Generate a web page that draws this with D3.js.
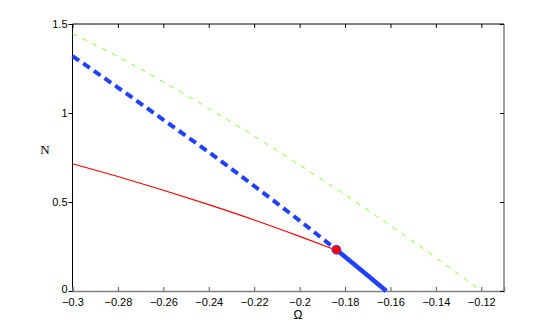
<!DOCTYPE html>
<html>
<head>
<meta charset="utf-8">
<script src="https://cdn.jsdelivr.net/npm/d3@7"></script>
<style>
  body { margin: 0; background: #fff; }
  .tick text { font-family: "Liberation Sans", Arial, sans-serif; font-size: 11px; fill: #000; }
</style>
</head>
<body>
<div id="chart"></div>
<script>
// values
var xTicks = [-0.3, -0.28, -0.26, -0.24, -0.22, -0.2, -0.18, -0.16, -0.14, -0.12];
var yTicks = [0, 0.5, 1, 1.5];

var greenOmega = [-0.3, -0.28, -0.26, -0.24, -0.22, -0.2, -0.18, -0.16, -0.14, -0.12];
var greenN     = [1.445, 1.317, 1.174, 1.026, 0.870, 0.708, 0.541, 0.367, 0.187, 0];

var blueDashOmega = [-0.3, -0.28, -0.26, -0.24, -0.22, -0.2, -0.1838];
var blueDashN     = [1.32, 1.143, 0.962, 0.780, 0.590, 0.395, 0.232];

var blueSolidOmega = [-0.1838, -0.17, -0.1618];
var blueSolidN     = [0.232, 0.087, 0];

var redOmega = [-0.3, -0.28, -0.26, -0.24, -0.22, -0.2, -0.1838];
var redN     = [0.715, 0.643, 0.566, 0.485, 0.399, 0.307, 0.229];

var point = [-0.1838, 0.232];

var w = 556, h = 327;
var margin = {top: 24, right: 52, bottom: 36, left: 72.5};

var svg = d3.select("#chart").append("svg")
    .attr("width", w)
    .attr("height", h);

var x = d3.scaleLinear().domain([-0.3, -0.11]).range([margin.left, w - margin.right]);
var y = d3.scaleLinear().domain([0, 1.5]).range([h - margin.bottom, margin.top]);

function fmt(d) { return String(+d.toFixed(2)).replace("-", "\u2212"); }

// box
svg.append("line").attr("x1", x.range()[0]).attr("x2", x.range()[1])
    .attr("y1", y(1.5)).attr("y2", y(1.5)).attr("stroke", "#000");
svg.append("line").attr("x1", x.range()[0]).attr("x2", x.range()[0])
    .attr("y1", y(0)).attr("y2", y(1.5)).attr("stroke", "#000");
svg.append("line").attr("x1", x.range()[1]).attr("x2", x.range()[1])
    .attr("y1", y(0)).attr("y2", y(1.5)).attr("stroke", "#808080").attr("stroke-width", 1.5);

// bottom axis
var xAxis = svg.append("g")
    .attr("transform", "translate(0," + y(0) + ")")
    .call(d3.axisBottom(x).tickValues(xTicks).tickSize(-4).tickPadding(7).tickFormat(fmt));
xAxis.select(".domain").attr("stroke", "#808080").attr("stroke-width", 1.5);
xAxis.selectAll(".tick line").attr("stroke", "#555");

// top ticks
svg.append("g")
    .attr("transform", "translate(0," + y(1.5) + ")")
    .call(d3.axisTop(x).tickValues(xTicks).tickSize(-4).tickFormat(""))
    .select(".domain").remove();

// left axis
var yAxis = svg.append("g")
    .attr("transform", "translate(" + x.range()[0] + ",0)")
    .call(d3.axisLeft(y).tickValues(yTicks).tickSize(4).tickPadding(1).tickFormat(function(d){ return String(d); }));
yAxis.select(".domain").remove();
yAxis.selectAll(".tick text").filter(function(d){ return d === 0; }).attr("dy", "0.1em");

// right ticks
svg.append("g")
    .attr("transform", "translate(" + x.range()[1] + ",0)")
    .call(d3.axisRight(y).tickValues(yTicks).tickSize(-4).tickFormat(""))
    .select(".domain").remove();

var line = d3.line()
    .x(function(d){ return x(d[0]); })
    .y(function(d){ return y(d[1]); })
    .curve(d3.curveMonotoneX);

function pairs(a, b) { return a.map(function(v, i){ return [v, b[i]]; }); }

svg.append("path")
    .datum(pairs(greenOmega, greenN))
    .attr("d", line)
    .attr("fill", "none")
    .attr("stroke", "#80ff33")
    .attr("stroke-width", 1)
    .attr("stroke-dasharray", "5,6");

svg.append("path")
    .datum(pairs(blueDashOmega, blueDashN))
    .attr("d", line)
    .attr("fill", "none")
    .attr("stroke", "#2040ff")
    .attr("stroke-width", 4)
    .attr("stroke-dasharray", "8,5");

svg.append("path")
    .datum(pairs(redOmega, redN))
    .attr("d", line)
    .attr("fill", "none")
    .attr("stroke", "#ff0000")
    .attr("stroke-width", 1.2);

svg.append("path")
    .datum(pairs(blueSolidOmega, blueSolidN))
    .attr("d", line)
    .attr("fill", "none")
    .attr("stroke", "#2040ff")
    .attr("stroke-width", 4.5);

svg.append("circle")
    .attr("cx", x(point[0]))
    .attr("cy", y(point[1]))
    .attr("r", 4.5)
    .attr("fill", "#ff0000")
    .attr("stroke", "#2040ff")
    .attr("stroke-width", 0.8);

// axis titles
svg.append("text")
    .attr("x", 45).attr("y", 154)
    .attr("text-anchor", "middle")
    .style("font-family", "'Liberation Serif', 'Times New Roman', serif")
    .style("font-size", "13px")
    .text("N");

svg.append("text")
    .attr("x", 298).attr("y", 319)
    .attr("text-anchor", "middle")
    .style("font-family", "'Liberation Sans', Arial, sans-serif")
    .style("font-size", "12px")
    .text("Ω");
</script>
</body>
</html>
